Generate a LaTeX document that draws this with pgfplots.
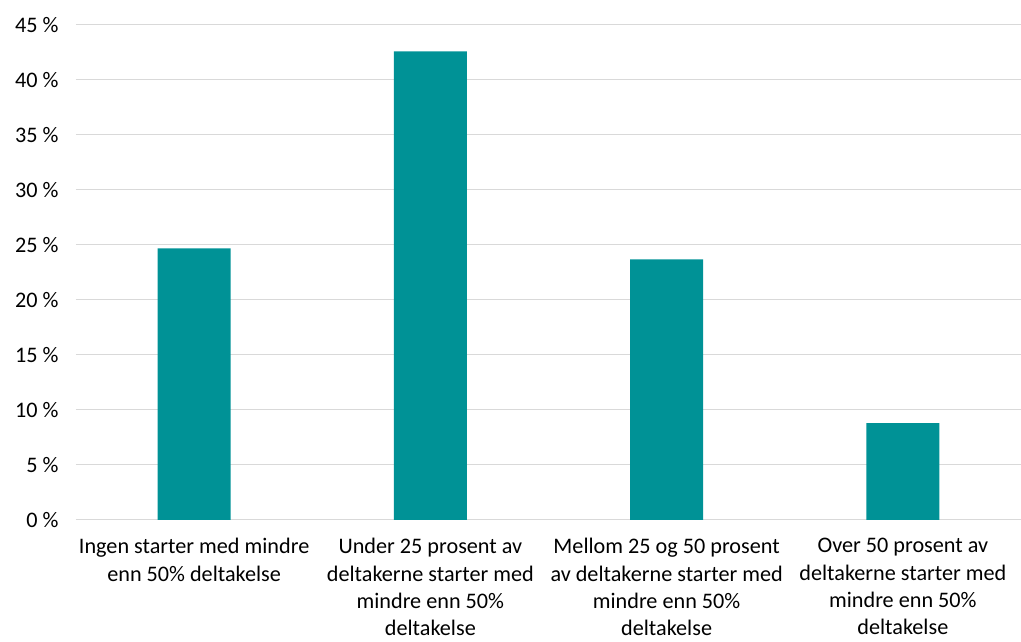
\documentclass[border=0pt]{standalone}
\usepackage{pgfplots}
\pgfplotsset{compat=1.18}
\usepackage{fontspec}
\setmainfont{Carlito}
\definecolor{barteal}{RGB}{0,146,150}
\definecolor{gridgray}{RGB}{217,217,217}
\begin{document}
\begin{tikzpicture}
\path[use as bounding box] (-76pt,-122pt) rectangle (945pt,520pt);
\begin{axis}[
  at={(0pt,0pt)}, anchor=south west,
  scale only axis,
  width=945pt, height=495pt,
  xmin=-0.5, xmax=3.5,
  ymin=0, ymax=45,
  axis line style={draw=none},
  ymajorgrids, grid style={gridgray, line width=1pt},
  major tick length=0pt,
  ytick={0,5,...,45},
  yticklabel={\pgfmathprintnumber{\tick}~\%},
  /pgf/number format/assume math mode=true,
  xtick={0,1,2,3},
  xticklabels={
    {Ingen starter med mindre\\enn 50\% deltakelse},
    {Under 25 prosent av\\deltakerne starter med\\mindre enn 50\%\\deltakelse},
    {Mellom 25 og 50 prosent\\av deltakerne starter med\\mindre enn 50\%\\deltakelse},
    {Over 50 prosent av\\deltakerne starter med\\mindre enn 50\%\\deltakelse}},
  xticklabel style={align=center, font=\fontsize{22.2}{27.3}\selectfont, yshift=-15pt},
  yticklabel style={font=\fontsize{22.2}{26}\selectfont, xshift=-14pt},
  every tick label/.append style={text=black},
]
\addplot[ybar, bar width=73pt, fill=barteal, draw=none] coordinates {
  (0,24.7) (1,42.6) (2,23.7) (3,8.8)
};
\end{axis}
\end{tikzpicture}
\end{document}
